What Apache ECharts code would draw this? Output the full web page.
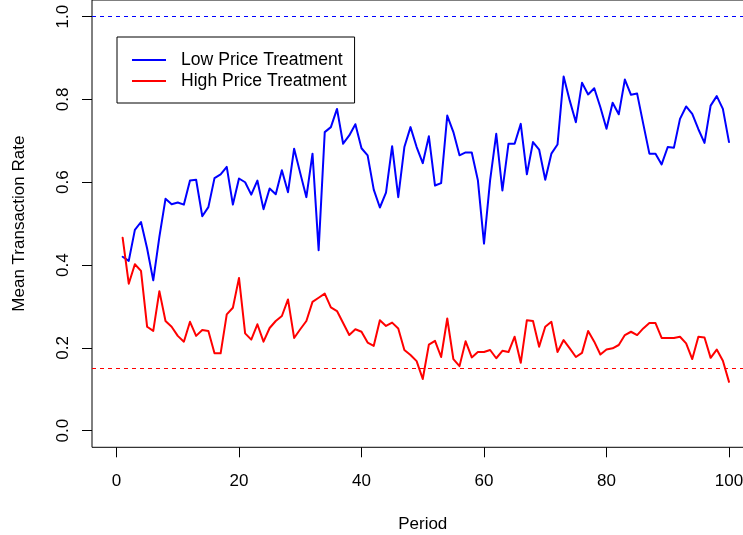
<!DOCTYPE html>
<html>
<head>
<meta charset="utf-8">
<script src="https://cdn.jsdelivr.net/npm/echarts@6/dist/echarts.min.js"></script>
<style>
  html, body { margin: 0; padding: 0; background: #fff; }
  #chart { width: 743px; height: 535px; }
</style>
</head>
<body>
<div id="chart"></div>
<script>
const periods = [1,2,3,4,5,6,7,8,9,10,11,12,13,14,15,16,17,18,19,20,
  21,22,23,24,25,26,27,28,29,30,31,32,33,34,35,36,37,38,39,40,
  41,42,43,44,45,46,47,48,49,50,51,52,53,54,55,56,57,58,59,60,
  61,62,63,64,65,66,67,68,69,70,71,72,73,74,75,76,77,78,79,80,
  81,82,83,84,85,86,87,88,89,90,91,92,93,94,95,96,97,98,99,100];

const lowPrice = [0.420,0.410,0.485,0.504,0.440,0.363,0.468,0.560,0.547,0.551,
  0.546,0.604,0.606,0.518,0.540,0.610,0.619,0.637,0.546,0.609,
  0.600,0.570,0.604,0.535,0.585,0.571,0.629,0.576,0.681,0.622,
  0.564,0.669,0.436,0.721,0.733,0.777,0.693,0.713,0.740,0.682,
  0.665,0.582,0.539,0.575,0.687,0.564,0.685,0.733,0.685,0.646,
  0.711,0.592,0.598,0.761,0.721,0.665,0.672,0.672,0.605,0.452,
  0.605,0.717,0.580,0.693,0.693,0.741,0.619,0.697,0.679,0.606,
  0.669,0.691,0.855,0.797,0.745,0.840,0.812,0.827,0.781,0.729,
  0.792,0.764,0.848,0.811,0.814,0.741,0.669,0.669,0.643,0.685,
  0.683,0.753,0.783,0.765,0.728,0.695,0.785,0.808,0.777,0.697];

const highPrice = [0.466,0.355,0.402,0.386,0.251,0.241,0.337,0.265,0.251,0.229,
  0.215,0.263,0.229,0.243,0.241,0.187,0.187,0.281,0.297,0.369,
  0.235,0.220,0.257,0.215,0.248,0.265,0.277,0.317,0.224,0.245,
  0.265,0.311,0.321,0.331,0.298,0.289,0.260,0.231,0.245,0.239,
  0.213,0.205,0.267,0.253,0.261,0.247,0.195,0.183,0.168,0.125,
  0.208,0.217,0.178,0.271,0.173,0.156,0.216,0.177,0.190,0.190,
  0.195,0.175,0.193,0.190,0.227,0.164,0.267,0.265,0.203,0.251,
  0.263,0.190,0.219,0.199,0.178,0.188,0.241,0.215,0.184,0.196,
  0.199,0.207,0.231,0.239,0.231,0.247,0.260,0.260,0.224,0.224,
  0.224,0.227,0.211,0.173,0.227,0.225,0.176,0.196,0.169,0.118];

const xTicks = [0, 20, 40, 60, 80, 100];
const yTicks = [0, 0.2, 0.4, 0.6, 0.8, 1.0];
const refLow = 1.0;
const refHigh = 0.15;
const seriesNames = ['Low Price Treatment', 'High Price Treatment'];

const FONT = "'Liberation Sans', Arial, Helvetica, sans-serif";
const chart = echarts.init(document.getElementById('chart'), null, { renderer: 'canvas' });

const pair = (vals) => periods.map((p, i) => [p, vals[i]]);

chart.setOption({
  animation: false,
  backgroundColor: '#ffffff',
  textStyle: { fontFamily: FONT, color: '#000' },
  grid: {
    left: 92, top: 0, width: 661.5, height: 447.3,
    show: true, borderColor: '#000', borderWidth: 1,
    containLabel: false, outerBoundsMode: 'none'
  },
  legend: {
    data: seriesNames,
    icon: 'rect',
    orient: 'vertical',
    left: 117, top: 37,
    padding: [14, 8, 13, 15],
    itemWidth: 34, itemHeight: 2, itemGap: 3,
    borderColor: '#000', borderWidth: 1, borderRadius: 0,
    backgroundColor: '#fff',
    selectedMode: false,
    textStyle: { fontFamily: FONT, fontSize: 17.6, color: '#000', padding: [0, 0, 0, 10] }
  },
  xAxis: {
    type: 'value', min: -4, max: 104,
    name: 'Period', nameLocation: 'middle', nameGap: 69,
    nameTextStyle: { fontFamily: FONT, fontSize: 17, color: '#000' },
    axisLine: { show: false, onZero: false },
    axisTick: { show: true, customValues: xTicks, length: 10, lineStyle: { color: '#000', width: 1 } },
    axisLabel: { customValues: xTicks, margin: 26, fontFamily: FONT, fontSize: 17, color: '#000' },
    splitLine: { show: false }
  },
  yAxis: {
    type: 'value', min: -0.04, max: 1.04,
    name: 'Mean Transaction Rate', nameLocation: 'middle', nameGap: 64,
    nameTextStyle: { fontFamily: FONT, fontSize: 17, color: '#000' },
    axisLine: { show: false, onZero: false },
    axisTick: { show: true, customValues: yTicks, length: 10, lineStyle: { color: '#000', width: 1 } },
    axisLabel: { customValues: yTicks, rotate: 90, margin: 20, fontFamily: FONT, fontSize: 17, color: '#000',
      formatter: (v) => Number(v).toFixed(1) },
    splitLine: { show: false }
  },
  series: [
    {
      name: seriesNames[0], type: 'line', data: pair(lowPrice),
      symbol: 'none', color: '#0000ff',
      lineStyle: { color: '#0000ff', width: 2, join: 'round', cap: 'round' },
      markLine: {
        silent: true, symbol: ['none', 'none'], label: { show: false },
        lineStyle: { color: '#0000ff', width: 1, type: [4, 4] },
        data: [{ yAxis: refLow }]
      }
    },
    {
      name: seriesNames[1], type: 'line', data: pair(highPrice),
      symbol: 'none', color: '#ff0000',
      lineStyle: { color: '#ff0000', width: 2, join: 'round', cap: 'round' },
      markLine: {
        silent: true, symbol: ['none', 'none'], label: { show: false },
        lineStyle: { color: '#ff0000', width: 1, type: [4, 4] },
        data: [{ yAxis: refHigh }]
      }
    }
  ]
});
</script>
</body>
</html>
